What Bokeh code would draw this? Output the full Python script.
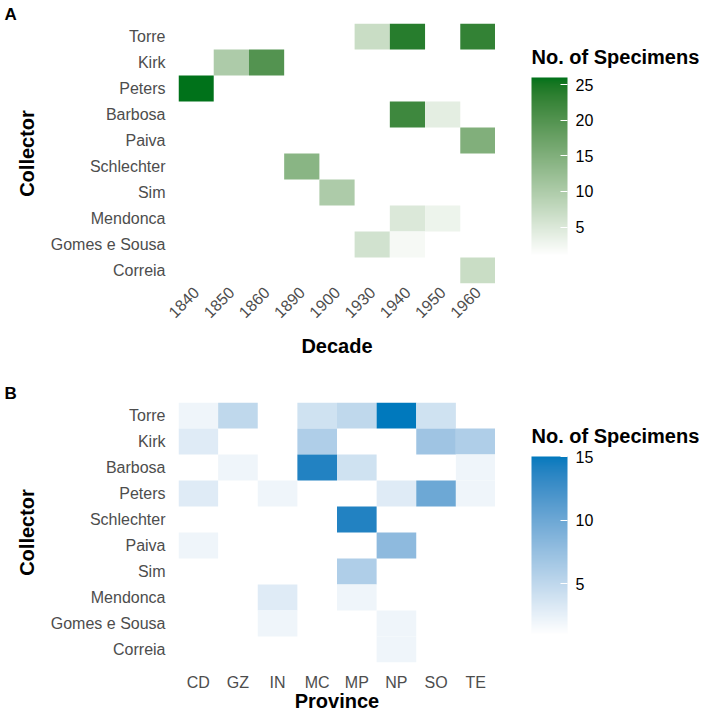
import numpy as np
from bokeh.plotting import figure
from bokeh.models import ColumnDataSource, LinearColorMapper, ColorBar, Label, FixedTicker
from bokeh.layouts import column, row
from bokeh.embed import file_html
from bokeh.resources import INLINE

# ---- Panel A: specimens per collector and decade ----
decades = ["1840", "1850", "1860", "1890", "1900", "1930", "1940", "1950", "1960"]
collectors_a = ["Torre", "Kirk", "Peters", "Barbosa", "Paiva", "Schlechter",
                "Sim", "Mendonca", "Gomes e Sousa", "Correia"]
counts_by_decade = [
    [0, 0, 0, 0, 0, 7, 24, 0, 23],    # Torre
    [0, 10, 20, 0, 0, 0, 0, 0, 0],    # Kirk
    [26, 0, 0, 0, 0, 0, 0, 0, 0],     # Peters
    [0, 0, 0, 0, 0, 0, 22, 4, 0],     # Barbosa
    [0, 0, 0, 0, 0, 0, 0, 0, 15],     # Paiva
    [0, 0, 0, 14, 0, 0, 0, 0, 0],     # Schlechter
    [0, 0, 0, 0, 10, 0, 0, 0, 0],     # Sim
    [0, 0, 0, 0, 0, 0, 5, 3, 0],      # Mendonca
    [0, 0, 0, 0, 0, 6, 2, 0, 0],      # Gomes e Sousa
    [0, 0, 0, 0, 0, 0, 0, 0, 7],      # Correia
]
range_a = (1, 26)
ticks_a = [5, 10, 15, 20, 25]

# ---- Panel B: specimens per collector and province ----
provinces = ["CD", "GZ", "IN", "MC", "MP", "NP", "SO", "TE"]
collectors_b = ["Torre", "Kirk", "Barbosa", "Peters", "Schlechter", "Paiva",
                "Sim", "Mendonca", "Gomes e Sousa", "Correia"]
counts_by_province = [
    [2, 5, 0, 4, 5, 15, 4, 0],   # Torre
    [3, 0, 0, 6, 0, 0, 7, 6],    # Kirk
    [0, 2, 0, 14, 4, 0, 0, 2],   # Barbosa
    [3, 0, 2, 0, 0, 3, 10, 2],   # Peters
    [0, 0, 0, 0, 14, 0, 0, 0],   # Schlechter
    [2, 0, 0, 0, 0, 8, 0, 0],    # Paiva
    [0, 0, 0, 0, 6, 0, 0, 0],    # Sim
    [0, 0, 3, 0, 2, 0, 0, 0],    # Mendonca
    [0, 0, 2, 0, 0, 2, 0, 0],    # Gomes e Sousa
    [0, 0, 0, 0, 0, 2, 0, 0],    # Correia
]
range_b = (1, 15)
ticks_b = [5, 10, 15]

FONT = "Liberation Sans"

# ---- colour gradients (white -> high colour) ----
_M = np.array([[0.4124564, 0.3575761, 0.1804375],
               [0.2126729, 0.7151522, 0.0721750],
               [0.0193339, 0.1191920, 0.9503041]])
_WHITE = np.array([0.95047, 1.0, 1.08883])


def _hex_to_rgb(h):
    h = h.lstrip("#")
    return np.array([int(h[i:i + 2], 16) for i in (0, 2, 4)]) / 255.0


def _rgb_to_hex(rgb):
    return "#%02x%02x%02x" % tuple(int(round(v * 255)) for v in np.clip(rgb, 0, 1))


def _hex_to_lab(h):
    rgb = _hex_to_rgb(h)
    lin = np.where(rgb > 0.04045, ((rgb + 0.055) / 1.055) ** 2.4, rgb / 12.92)
    t = (_M @ lin) / _WHITE
    d = 6 / 29
    f = np.where(t > d ** 3, np.cbrt(t), t / (3 * d * d) + 4 / 29)
    return np.array([116 * f[1] - 16, 500 * (f[0] - f[1]), 200 * (f[1] - f[2])])


def _lab_to_rgb(lab):
    L, a, b = lab
    fy = (L + 16) / 116
    f = np.array([fy + a / 500, fy, fy - b / 200])
    d = 6 / 29
    t = np.where(f > d, f ** 3, 3 * d * d * (f - 4 / 29))
    lin = np.clip(np.linalg.inv(_M) @ (t * _WHITE), 0, 1)
    return np.where(lin > 0.0031308, 1.055 * lin ** (1 / 2.4) - 0.055, 12.92 * lin)


def gradient(low, high, lab_share=1.0, n=256):
    """Ramp from low to high; lab_share blends a CIE-Lab ramp with a plain RGB ramp."""
    lab_lo, lab_hi = _hex_to_lab(low), _hex_to_lab(high)
    rgb_lo, rgb_hi = _hex_to_rgb(low), _hex_to_rgb(high)
    out = []
    for k in range(n):
        s = k / (n - 1)
        c_lab = _lab_to_rgb(lab_lo + (lab_hi - lab_lo) * s)
        c_rgb = rgb_lo + (rgb_hi - rgb_lo) * s
        out.append(_rgb_to_hex(lab_share * c_lab + (1 - lab_share) * c_rgb))
    return out


def heatmap(xs, rows, matrix, mapper, height, border_top, border_bottom,
            xlabel, panel, rotate):
    xx, yy, cc = [], [], []
    for name, vals in zip(rows, matrix):
        for cat, v in zip(xs, vals):
            if v > 0:
                xx.append(cat)
                yy.append(name)
                cc.append(v)
    src = ColumnDataSource(dict(x=xx, y=yy, count=cc))

    p = figure(width=495, height=height, x_range=xs, y_range=list(reversed(rows)),
               output_backend="svg", toolbar_location=None,
               min_border_left=178, min_border_right=0,
               min_border_top=border_top, min_border_bottom=border_bottom)
    p.rect(x="x", y="y", width=1, height=1, source=src, line_color=None,
           fill_color={"field": "count", "transform": mapper})

    p.outline_line_color = None
    p.grid.grid_line_color = None
    for ax in (p.xaxis[0], p.yaxis[0]):
        ax.axis_line_color = None
        ax.major_tick_line_color = None
        ax.minor_tick_line_color = None
        ax.major_tick_in = 0
        ax.major_tick_out = 0
        ax.major_label_text_font = FONT
        ax.major_label_text_font_size = "16px"
        ax.major_label_text_color = "#4d4d4d"
        ax.axis_label_text_font = FONT
        ax.axis_label_text_font_size = "20px"
        ax.axis_label_text_font_style = "bold"
        ax.axis_label_text_color = "black"
    p.yaxis.axis_label = "Collector"
    p.yaxis.major_label_standoff = 13
    p.yaxis.axis_label_standoff = 10
    p.xaxis.axis_label = xlabel
    if rotate:
        p.xaxis.major_label_orientation = np.pi / 4
        p.xaxis.major_label_standoff = 6
        p.xaxis.axis_label_standoff = 9
    else:
        p.xaxis.major_label_standoff = 11
        p.xaxis.axis_label_standoff = -4

    p.title.text = panel
    p.title.align = "left"
    p.title.offset = -174
    p.title.standoff = 0
    p.title.text_font = FONT
    p.title.text_font_size = "17px"
    p.title.text_font_style = "bold"
    p.title.text_color = "black"
    return p


def legend_panel(mapper, ticks, height, title_y, bar_y):
    # the frame of this panel lines up with the heatmap's frame (260 px tall);
    # title_y / bar_y are measured upward from that frame's bottom edge
    q = figure(width=214, height=height, x_range=(0, 1), y_range=(0, 1),
               output_backend="svg", toolbar_location=None, min_border=0,
               x_axis_location=None, y_axis_location=None)
    q.outline_line_color = None
    q.grid.grid_line_color = None
    q.add_layout(Label(x=36, y=title_y, x_units="screen", y_units="screen",
                       text="No. of Specimens", text_font=FONT, text_font_size="20px",
                       text_font_style="bold", text_color="black",
                       text_baseline="alphabetic"))
    cb = ColorBar(color_mapper=mapper, ticker=FixedTicker(ticks=ticks),
                  width=36, height=178, location=(36, bar_y), padding=0,
                  orientation="vertical",
                  major_label_text_font=FONT, major_label_text_font_size="16px",
                  major_label_text_color="black", label_standoff=8,
                  major_tick_line_color="white", major_tick_in=7, major_tick_out=0,
                  bar_line_color=None, border_line_color=None,
                  background_fill_color=None)
    q.add_layout(cb, "center")
    return q


mapper_a = LinearColorMapper(palette=gradient("#ffffff", "#00721a", 1.0),
                             low=range_a[0], high=range_a[1])
mapper_b = LinearColorMapper(palette=gradient("#ffffff", "#0079bd", 0.5),
                             low=range_b[0], high=range_b[1])

pa = heatmap(decades, collectors_a, counts_by_decade, mapper_a, 378, 23, 95,
             "Decade", "A", True)
la = legend_panel(mapper_a, ticks_a, 378, 227, 28)
pb = heatmap(provinces, collectors_b, counts_by_province, mapper_b, 336, 24, 52,
             "Province", "B", False)
lb = legend_panel(mapper_b, ticks_b, 336, 227, 28)

layout = column(row(pa, la, spacing=0), row(pb, lb, spacing=0), spacing=0)
open("out.html", "w").write(file_html(layout, INLINE))
